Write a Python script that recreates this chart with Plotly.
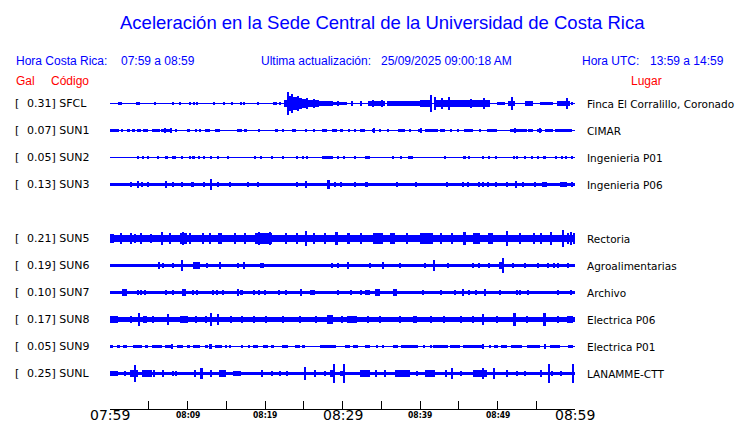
import plotly.graph_objects as go

# station table (top to bottom, an empty slot after SUN3)
CODES = ["SFCL", "SUN1", "SUN2", "SUN3", "SUN5", "SUN6", "SUN7", "SUN8", "SUN9", "SUNL"]
PEAKS = ["0.31", "0.07", "0.05", "0.13", "0.21", "0.19", "0.10", "0.17", "0.05", "0.25"]
PLACES = ["Finca El Corralillo, Coronado", "CIMAR", "Ingenieria P01", "Ingenieria P06",
          "Rectoria", "Agroalimentarias", "Archivo", "Electrica P06", "Electrica P01", "LANAMME-CTT"]
ROWS = [0, 1, 2, 3, 5, 6, 7, 8, 9, 10]
ROW_STEP = 0.7  # Gal between traces

# background noise half-amplitude of each trace (Gal)
BASE = [0.01, 0.01, 0.01, 0.045, 0.1, 0.045, 0.045, 0.07, 0.01, 0.05]

# envelope segments: (start min, end min, half amplitude Gal), minutes from 07:59
SFCL_EV = [(1.0, 1.6, 0.045), (3.3, 3.9, 0.045), (5.8, 5.95, 0.04), (8.0, 8.15, 0.04), (8.9, 9.2, 0.045),
           (10.3, 10.45, 0.04), (10.8, 10.95, 0.045), (11.1, 11.25, 0.04), (13.3, 13.45, 0.04),
           (14.7, 14.85, 0.04), (15.7, 15.85, 0.04), (16.8, 16.95, 0.04), (17.2, 17.4, 0.045),
           (19.0, 19.15, 0.04), (21.0, 21.5, 0.045), (21.9, 22.05, 0.04),
           (22.5, 22.9, 0.10), (22.9, 23.1, 0.31), (23.1, 23.4, 0.20), (23.4, 23.6, 0.25), (23.6, 24.1, 0.16),
           (24.1, 24.4, 0.20), (24.4, 24.8, 0.13), (24.8, 25.3, 0.11), (25.3, 25.5, 0.15), (25.5, 26.2, 0.09),
           (26.2, 26.4, 0.12), (26.4, 27.0, 0.08), (27.0, 28.8, 0.06), (28.8, 30.6, 0.05), (29.3, 29.45, 0.07),
           (31.2, 31.35, 0.06), (32.3, 32.45, 0.06), (33.3, 35.5, 0.055), (33.9, 34.05, 0.09), (35.0, 35.15, 0.09),
           (35.7, 38.7, 0.055), (36.5, 36.65, 0.07), (38.7, 40.0, 0.065), (40.0, 41.3, 0.08), (41.35, 41.5, 0.23),
           (41.9, 42.05, 0.16), (42.1, 43.6, 0.10), (42.8, 42.95, 0.13), (43.65, 43.8, 0.18), (43.8, 47.7, 0.08),
           (45.2, 45.35, 0.10), (46.5, 46.65, 0.11), (47.7, 49.0, 0.08), (48.2, 48.35, 0.13), (49.9, 51.0, 0.045),
           (51.4, 52.3, 0.055), (51.85, 52.0, 0.18), (53.5, 54.6, 0.075), (55.5, 57.2, 0.045), (57.7, 59.4, 0.065),
           (58.9, 59.05, 0.13), (59.6, 59.75, 0.04)]

SUN1_EV = [(0.0, 0.9, 0.045), (1.0, 1.15, 0.045), (1.5, 1.65, 0.045), (2.2, 2.6, 0.045), (2.8, 3.2, 0.045),
           (3.5, 4.0, 0.045), (4.3, 4.9, 0.045), (5.4, 6.45, 0.045), (6.6, 8.0, 0.05), (7.0, 7.15, 0.065),
           (7.8, 7.95, 0.07), (8.4, 8.55, 0.045), (9.9, 10.3, 0.045), (11.0, 11.15, 0.045), (11.6, 11.75, 0.045),
           (12.3, 12.9, 0.045), (13.5, 14.2, 0.045), (16.4, 17.0, 0.045), (17.3, 17.7, 0.045), (19.1, 19.25, 0.045),
           (21.3, 21.7, 0.045), (22.2, 22.35, 0.045), (23.5, 24.0, 0.045), (25.2, 25.35, 0.045), (26.3, 26.45, 0.045),
           (27.4, 28.0, 0.045), (28.6, 29.3, 0.045), (29.7, 30.1, 0.045), (30.8, 30.95, 0.045), (31.6, 31.75, 0.045),
           (32.3, 32.9, 0.045), (33.8, 34.2, 0.05), (34.0, 34.15, 0.065), (34.8, 34.95, 0.045), (35.7, 36.0, 0.045),
           (37.2, 38.1, 0.045), (38.7, 38.85, 0.045), (39.7, 40.3, 0.05), (40.0, 40.15, 0.07), (40.6, 42.3, 0.045),
           (42.6, 43.2, 0.045), (43.9, 44.05, 0.045), (44.8, 44.95, 0.045), (45.7, 46.8, 0.045), (47.7, 47.85, 0.045),
           (48.6, 49.9, 0.045), (51.6, 53.8, 0.05), (52.2, 52.35, 0.065), (53.9, 54.6, 0.045), (55.1, 55.7, 0.05),
           (55.4, 55.55, 0.065), (56.1, 57.2, 0.045), (57.4, 59.6, 0.045)]

SUN2_EV = [(3.6, 3.75, 0.045), (4.1, 4.4, 0.045), (4.9, 5.05, 0.045), (6.1, 6.25, 0.04), (7.1, 7.5, 0.045),
           (8.0, 8.15, 0.045), (8.3, 8.45, 0.045), (9.2, 9.35, 0.04), (10.3, 10.45, 0.045), (10.6, 11.0, 0.05),
           (11.4, 11.55, 0.045), (12.1, 12.25, 0.045), (12.9, 13.2, 0.045), (13.9, 14.05, 0.045),
           (15.2, 15.35, 0.04), (18.6, 18.75, 0.04), (19.4, 19.55, 0.04), (20.8, 20.95, 0.04), (22.3, 22.45, 0.04),
           (24.1, 24.25, 0.045), (24.8, 24.95, 0.045), (25.4, 25.55, 0.045), (27.4, 28.8, 0.04),
           (28.1, 28.25, 0.05), (29.4, 29.55, 0.045), (30.1, 30.25, 0.045), (31.6, 31.75, 0.04), (32.9, 33.5, 0.045),
           (36.5, 36.65, 0.045), (37.5, 37.65, 0.045), (38.5, 39.1, 0.045), (43.1, 43.25, 0.04), (45.5, 45.9, 0.045),
           (46.3, 46.45, 0.045), (48.0, 48.15, 0.05), (48.8, 48.95, 0.045), (49.7, 49.85, 0.04), (52.0, 52.15, 0.045),
           (52.4, 52.55, 0.045), (53.5, 53.65, 0.04), (54.4, 54.55, 0.045), (55.1, 55.25, 0.04), (55.9, 56.3, 0.045),
           (57.5, 57.65, 0.04), (58.2, 58.35, 0.045), (58.8, 58.95, 0.05), (59.6, 59.75, 0.045)]

SUN3_EV = [(2.7, 2.85, 0.06), (3.6, 3.75, 0.08), (4.1, 4.25, 0.07), (4.9, 5.05, 0.07), (7.1, 7.4, 0.08),
           (8.0, 8.15, 0.06), (9.2, 9.35, 0.06), (10.5, 10.8, 0.065), (12.1, 12.25, 0.06), (13.0, 13.15, 0.13),
           (13.9, 14.05, 0.07), (15.4, 15.55, 0.06), (17.8, 17.95, 0.055), (19.0, 19.15, 0.06), (24.0, 24.15, 0.06),
           (25.2, 25.35, 0.08), (28.0, 28.4, 0.11), (29.0, 29.15, 0.07), (29.7, 29.85, 0.06), (31.6, 31.75, 0.065),
           (32.9, 33.3, 0.065), (37.0, 37.15, 0.055), (39.4, 39.55, 0.055), (43.4, 43.55, 0.06), (45.5, 45.65, 0.06),
           (46.1, 46.25, 0.06), (47.5, 47.65, 0.06), (48.1, 48.25, 0.07), (48.6, 48.9, 0.065), (49.7, 49.85, 0.055),
           (51.1, 51.25, 0.06), (52.3, 52.45, 0.09), (53.2, 53.35, 0.06), (54.8, 54.95, 0.065), (55.7, 56.4, 0.075),
           (58.1, 59.0, 0.075), (59.6, 59.75, 0.06)]

SUN5_EV = [(0.0, 0.5, 0.12), (1.3, 1.45, 0.15), (2.6, 2.75, 0.13), (3.2, 3.35, 0.12), (3.9, 4.05, 0.13),
           (5.2, 5.35, 0.12), (6.7, 6.85, 0.17), (7.7, 7.85, 0.13), (9.0, 9.9, 0.13), (9.4, 9.55, 0.16),
           (10.3, 10.45, 0.14), (11.9, 12.05, 0.14), (12.9, 13.05, 0.14), (13.9, 14.5, 0.13), (16.1, 16.25, 0.13),
           (17.4, 17.55, 0.13), (18.7, 20.9, 0.14), (19.2, 19.35, 0.18), (20.6, 20.75, 0.17), (22.6, 22.75, 0.14),
           (24.1, 24.25, 0.14), (25.2, 25.4, 0.19), (26.2, 26.35, 0.14), (27.7, 27.85, 0.14), (29.0, 29.4, 0.16),
           (30.6, 31.0, 0.14), (32.3, 32.45, 0.13), (33.9, 35.2, 0.13), (34.5, 34.65, 0.15), (36.1, 36.8, 0.13),
           (38.3, 38.45, 0.15), (40.0, 41.7, 0.13), (40.8, 40.95, 0.15), (42.6, 42.75, 0.14), (44.1, 44.25, 0.13),
           (45.5, 45.9, 0.17), (46.8, 47.7, 0.13), (48.8, 49.4, 0.14), (51.1, 51.25, 0.19), (52.9, 53.05, 0.14),
           (54.6, 54.75, 0.14), (55.5, 55.65, 0.13), (56.8, 56.95, 0.17), (58.4, 58.6, 0.21), (59.0, 59.15, 0.14),
           (59.4, 59.55, 0.16), (59.8, 59.95, 0.13)]

SUN6_EV = [(6.2, 6.35, 0.08), (6.8, 6.95, 0.06), (8.1, 8.25, 0.06), (9.2, 9.35, 0.13), (10.7, 11.6, 0.09),
           (12.5, 12.65, 0.06), (14.1, 14.25, 0.08), (16.4, 16.55, 0.06), (17.2, 17.35, 0.08), (19.4, 19.55, 0.06),
           (19.7, 19.85, 0.06), (28.6, 28.75, 0.06), (29.4, 29.55, 0.06), (30.7, 30.85, 0.08), (33.5, 33.65, 0.06),
           (35.2, 35.35, 0.08), (37.4, 37.55, 0.06), (40.6, 40.75, 0.06), (41.7, 41.85, 0.13), (43.6, 43.75, 0.06),
           (46.8, 46.95, 0.06), (47.5, 47.65, 0.06), (48.8, 48.95, 0.06), (50.2, 50.7, 0.08), (50.7, 50.85, 0.19),
           (51.9, 52.05, 0.06), (53.5, 53.65, 0.06), (55.1, 55.25, 0.06), (56.4, 56.55, 0.06), (57.2, 57.35, 0.06),
           (57.8, 57.95, 0.06), (59.0, 59.15, 0.06)]

SUN7_EV = [(1.5, 2.2, 0.08), (3.6, 3.75, 0.06), (3.9, 4.05, 0.06), (4.5, 4.65, 0.06), (7.1, 7.25, 0.055),
           (8.0, 8.15, 0.055), (9.3, 9.8, 0.09), (10.7, 10.85, 0.06), (11.2, 11.35, 0.06), (13.2, 13.35, 0.055),
           (13.8, 13.95, 0.06), (14.5, 14.65, 0.055), (16.5, 16.65, 0.08), (16.8, 17.2, 0.06), (18.5, 18.65, 0.055),
           (19.1, 19.25, 0.055), (19.9, 20.05, 0.06), (21.7, 21.85, 0.055), (22.6, 22.75, 0.055), (24.6, 24.75, 0.08),
           (25.8, 26.5, 0.065), (29.4, 29.55, 0.06), (31.0, 31.15, 0.06), (32.3, 32.45, 0.055), (32.9, 33.5, 0.065),
           (34.2, 34.8, 0.08), (36.5, 37.0, 0.10), (40.3, 40.45, 0.055), (42.6, 42.75, 0.06), (44.5, 44.65, 0.055),
           (45.5, 45.65, 0.08), (46.2, 46.35, 0.06), (47.1, 47.25, 0.055), (48.3, 48.45, 0.09), (50.3, 50.45, 0.055),
           (52.5, 52.65, 0.055), (52.9, 53.05, 0.055), (53.9, 54.05, 0.06), (57.8, 57.95, 0.055), (59.4, 59.55, 0.055)]

SUN8_EV = [(0.0, 1.0, 0.09), (2.6, 2.75, 0.09), (3.6, 3.9, 0.16), (4.3, 4.8, 0.10), (5.5, 5.65, 0.09),
           (7.4, 7.55, 0.13), (9.0, 10.1, 0.10), (11.0, 11.15, 0.09), (12.3, 12.45, 0.10), (12.9, 13.2, 0.16),
           (13.9, 14.05, 0.14), (15.5, 15.65, 0.09), (17.0, 17.15, 0.09), (18.5, 18.65, 0.09), (20.0, 20.15, 0.09),
           (22.3, 22.45, 0.09), (24.5, 24.65, 0.09), (26.5, 26.65, 0.09), (28.0, 28.8, 0.115), (29.9, 30.05, 0.09),
           (30.6, 31.9, 0.10), (33.2, 33.35, 0.10), (34.8, 34.95, 0.09), (37.4, 37.55, 0.10), (39.1, 39.6, 0.10),
           (41.3, 41.45, 0.09), (43.0, 43.15, 0.09), (45.2, 45.35, 0.09), (46.8, 46.95, 0.09), (48.1, 48.25, 0.13),
           (49.9, 50.05, 0.09), (52.0, 52.4, 0.16), (53.8, 53.95, 0.09), (55.9, 56.3, 0.16), (57.7, 57.85, 0.09),
           (59.0, 59.8, 0.10)]

SUN9_EV = [(0.0, 0.43, 0.045), (0.86, 1.29, 0.045), (1.72, 2.15, 0.045), (3.01, 4.09, 0.045), (4.52, 4.95, 0.045),
           (5.38, 6.67, 0.045), (7.1, 7.96, 0.045), (7.96, 8.1, 0.055), (8.6, 9.46, 0.045), (9.89, 10.32, 0.045),
           (10.75, 11.61, 0.045), (12.26, 12.69, 0.045), (12.9, 13.1, 0.055), (13.55, 14.41, 0.045),
           (14.84, 15.0, 0.045), (15.48, 15.65, 0.045), (17.0, 17.2, 0.045), (17.85, 18.0, 0.045),
           (18.5, 19.1, 0.045), (19.8, 20.4, 0.045), (20.9, 21.1, 0.045), (22.2, 23.0, 0.045), (23.9, 24.5, 0.045),
           (24.9, 25.1, 0.045), (27.1, 29.2, 0.045), (30.3, 31.0, 0.045), (31.4, 32.0, 0.045), (32.9, 33.5, 0.045),
           (34.4, 34.55, 0.045), (35.1, 35.25, 0.045), (36.5, 37.1, 0.045), (37.6, 39.8, 0.045), (40.4, 40.55, 0.045),
           (41.3, 41.45, 0.045), (41.7, 43.6, 0.045), (43.9, 45.2, 0.045), (45.6, 48.0, 0.045), (48.1, 48.3, 0.055),
           (49.0, 49.15, 0.045), (49.5, 50.0, 0.045), (50.5, 51.2, 0.045), (51.8, 53.1, 0.045), (53.8, 55.5, 0.045),
           (56.1, 56.3, 0.055), (56.8, 58.1, 0.045), (59.1, 59.8, 0.045)]

SUNL_EV = [(0.0, 1.0, 0.065), (1.9, 2.05, 0.065), (2.6, 3.6, 0.10), (3.2, 3.4, 0.21), (4.1, 5.4, 0.08),
           (5.55, 5.7, 0.10), (6.8, 6.95, 0.09), (8.0, 8.15, 0.065), (8.4, 8.55, 0.065), (10.9, 11.05, 0.08),
           (11.6, 12.0, 0.13), (13.0, 13.15, 0.08), (14.1, 15.0, 0.08), (15.9, 16.9, 0.07), (19.6, 19.75, 0.10),
           (20.9, 21.05, 0.075), (21.9, 22.05, 0.075), (22.8, 22.95, 0.075), (25.15, 25.3, 0.18), (26.4, 26.55, 0.08),
           (27.7, 27.85, 0.075), (28.4, 28.9, 0.10), (28.9, 29.05, 0.25), (29.7, 30.3, 0.07), (30.15, 30.3, 0.25),
           (32.3, 33.5, 0.08), (34.2, 34.35, 0.08), (35.4, 35.55, 0.09), (36.8, 38.7, 0.08), (39.6, 39.75, 0.07),
           (40.6, 41.9, 0.10), (43.3, 43.45, 0.08), (44.1, 44.25, 0.13), (45.2, 45.35, 0.075), (46.8, 48.6, 0.10),
           (48.1, 48.25, 0.14), (49.5, 49.65, 0.13), (51.2, 51.35, 0.08), (52.5, 52.65, 0.07), (53.5, 53.65, 0.07),
           (55.5, 55.65, 0.08), (56.6, 56.75, 0.25), (57.0, 57.15, 0.075), (58.1, 58.25, 0.075), (59.7, 59.9, 0.25)]

EVENTS = [SFCL_EV, SUN1_EV, SUN2_EV, SUN3_EV, SUN5_EV, SUN6_EV, SUN7_EV, SUN8_EV, SUN9_EV, SUNL_EV]

TICKS = list(range(0, 61, 5))
TICK_LABELS = {0: "07:59", 10: "08:09", 20: "08:19", 30: "08:29", 40: "08:39", 50: "08:49", 60: "08:59"}
BIG_TICKS = [0, 30, 60]

BLUE = "#0000ff"
RED = "#ff0000"

# page geometry (px)
W, H = 740, 423
L, R, T, B = 110, 575, 85, 409
PX_PER_GAL = 27 / ROW_STEP


def px(x):
    return (x - L) / (R - L)


def py(y):
    return (B - y) / (B - T)


fig = go.Figure()

for code, row, base, ev in zip(CODES, ROWS, BASE, EVENTS):
    off = -row * ROW_STEP
    segs = [(0.0, 60.0, base)] + ev
    fig.add_trace(go.Bar(
        x=[(a + b) / 2 for a, b, _ in segs],
        width=[b - a for a, b, _ in segs],
        base=[off - h for _, _, h in segs],
        y=[2 * h for _, _, h in segs],
        marker=dict(color=BLUE, line=dict(width=0)),
        name=code, hoverinfo="skip", showlegend=False))

ann = []


def note(text, x, y, size=12, color=BLUE, family="Liberation Sans", xanchor="left"):
    ann.append(dict(text=text, x=px(x), y=py(y), xref="paper", yref="paper", showarrow=False,
                    xanchor=xanchor, yanchor="middle", font=dict(size=size, color=color, family=family)))


note("Aceleración en la Sede Central de la Universidad de Costa Rica", 382, 22, size=18.5, xanchor="center")
note("Hora Costa Rica:", 14, 61)
note("07:59 a 08:59", 119, 61)
note("Ultima actualización:", 259, 61)
note("25/09/2025 09:00:18 AM", 379, 61)
note("Hora UTC:", 580, 61)
note("13:59 a 14:59", 648, 61)
note("Gal", 14, 81, color=RED)
note("Código", 49, 81, color=RED)
note("Lugar", 629, 81, color=RED)

for row, pk, code, place in zip(ROWS, PEAKS, CODES, PLACES):
    yy = 103.5 + row * 27
    note("[", 13, yy, size=11, color="black", family="DejaVu Sans")
    note(pk + "] " + code, 25, yy, size=11, color="black", family="DejaVu Sans")
    note(place, 585, yy, size=10.5, color="black", family="DejaVu Sans")

for t, lab in TICK_LABELS.items():
    big = t in BIG_TICKS
    ann.append(dict(text=lab if big else "<b>" + lab + "</b>", x=t, y=0, xref="x", yref="paper",
                    yshift=-6, showarrow=False, xanchor="center", yanchor="middle",
                    font=dict(size=14 if big else 8.5, color="black",
                              family="DejaVu Sans" if big else "DejaVu Sans Condensed")))

fig.update_layout(
    width=W, height=H,
    margin=dict(l=L, r=W - R, t=T, b=H - B, pad=0),
    paper_bgcolor="white", plot_bgcolor="white",
    barmode="overlay", bargap=0,
    showlegend=False,
    annotations=ann,
    xaxis=dict(range=[0, 60], showgrid=False, zeroline=False, showline=True, linecolor="black", linewidth=1,
               ticks="inside", ticklen=8, tickcolor="black", tickwidth=1, tickvals=TICKS,
               showticklabels=False, fixedrange=True),
    # rows sit on pixel centres (103.5, 130.5, ...) so one-pixel traces stay one pixel thick
    yaxis=dict(range=[-7 - 35.5 / PX_PER_GAL, 18.5 / PX_PER_GAL], visible=False, fixedrange=True),
)

# the page body has a default 8px margin; drop it so the chart sits at the window origin
fig.write_html("out.html", config={"displayModeBar": False},
               post_script="document.body.style.margin='0px';")
